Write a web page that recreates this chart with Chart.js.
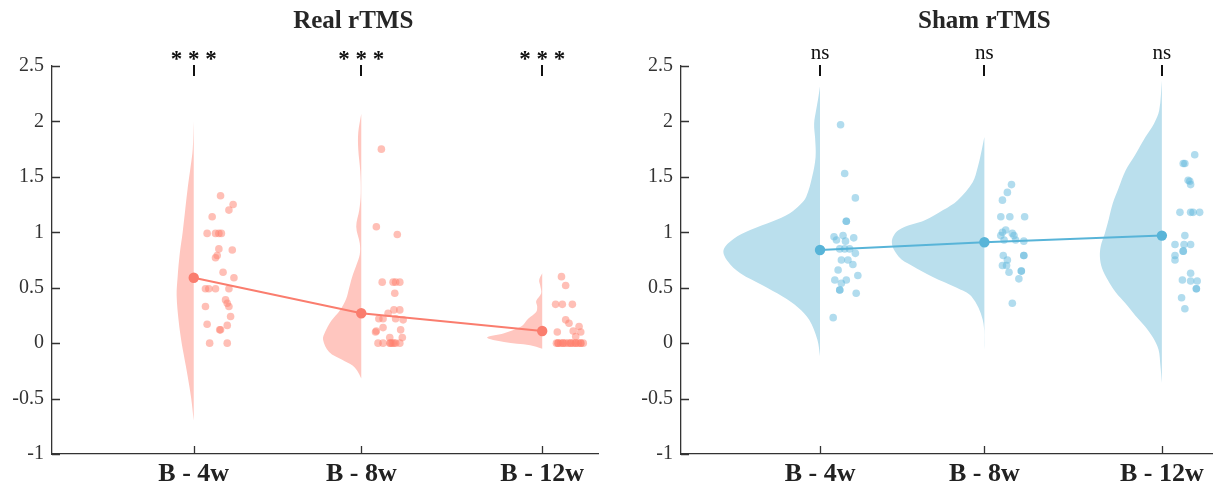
<!DOCTYPE html>
<html>
<head>
<meta charset="utf-8">
<script src="https://cdn.jsdelivr.net/npm/chart.js@4.4.1/dist/chart.umd.min.js"></script>
<style>
  body { margin: 0; background: #fff; }
  #wrap { position: relative; width: 1218px; height: 489px; }
  .panel { position: absolute; top: 0; height: 489px; }
</style>
</head>
<body>
<div id="wrap">
  <div class="panel" style="left:0;width:610px"><canvas id="realChart"></canvas></div>
  <div class="panel" style="left:610px;width:608px"><canvas id="shamChart"></canvas></div>
</div>
<script>
// categories and labels
const categories = ["B - 4w", "B - 8w", "B - 12w"];
const yTicks = [-1, -0.5, 0, 0.5, 1, 1.5, 2, 2.5];
const panelTitles = ["Real rTMS", "Sham rTMS"];
const realSig = ["* * *", "* * *", "* * *"];
const shamSig = ["ns", "ns", "ns"];

// group means
const realMeans = [0.59, 0.27, 0.11];
const shamMeans = [0.84, 0.91, 0.97];

// individual values and their horizontal jitter
const realValues = [
  [1.33, 1.25, 1.2, 1.14, 0.99, 0.99, 0.99, 0.99, 0.85, 0.84, 0.79, 0.77, 0.64, 0.59, 0.49, 0.49, 0.49, 0.49, 0.39, 0.36, 0.33, 0.33, 0.24, 0.17, 0.16, 0.12, 0.12, 0, 0],
  [1.75, 1.05, 0.98, 0.55, 0.55, 0.55, 0.55, 0.45, 0.3, 0.3, 0.27, 0.22, 0.22, 0.22, 0.21, 0.14, 0.12, 0.11, 0.1, 0.05, 0.05, 0, 0, 0, 0, 0, 0, 0, 0],
  [0.6, 0.52, 0.35, 0.35, 0.35, 0.21, 0.18, 0.15, 0.11, 0.1, 0.1, 0.06, 0, 0, 0, 0, 0, 0, 0, 0, 0, 0, 0, 0, 0, 0, 0, 0, 0]
];
const realJitter = [
  [.16, .235, .21, .11, .08, .13, .15, .165, .15, .23, .14, .13, .175, .24, .07, .09, .13, .21, .19, .2, .21, .07, .22, .08, .2, .155, .16, .095, .2],
  [.12, .09, .215, .125, .19, .205, .23, .2, .195, .23, .16, .105, .13, .205, .25, .13, .235, .09, .085, .17, .245, .1, .13, .17, .175, .185, .195, .205, .23],
  [.115, .14, .08, .12, .18, .14, .16, .22, .185, .09, .23, .2, .085, .095, .095, .11, .125, .125, .14, .155, .17, .17, .185, .2, .2, .215, .23, .23, .245]
];
const shamValues = [
  [1.97, 1.53, 1.31, 1.1, 1.1, 0.97, 0.96, 0.95, 0.93, 0.92, 0.85, 0.85, 0.85, 0.81, 0.75, 0.75, 0.71, 0.66, 0.61, 0.57, 0.57, 0.54, 0.48, 0.48, 0.45, 0.23],
  [1.43, 1.36, 1.29, 1.14, 1.14, 1.14, 1.02, 1.0, 0.99, 0.97, 0.97, 0.93, 0.93, 0.92, 0.79, 0.79, 0.79, 0.75, 0.7, 0.7, 0.64, 0.65, 0.65, 0.58, 0.36],
  [1.7, 1.62, 1.62, 1.47, 1.46, 1.43, 1.18, 1.18, 1.18, 1.18, 0.97, 0.89, 0.89, 0.89, 0.83, 0.83, 0.79, 0.75, 0.63, 0.57, 0.56, 0.56, 0.49, 0.49, 0.41, 0.31]
];
const shamJitter = [
  [.125, .15, .215, .16, .16, .14, .085, .205, .1, .155, .12, .15, .18, .215, .13, .17, .2, .11, .23, .09, .16, .13, .12, .12, .22, .08],
  [.165, .14, .11, .1, .155, .245, .13, .11, .17, .1, .18, .12, .19, .24, .115, .24, .24, .14, .11, .135, .15, .225, .225, .21, .17],
  [.2, .13, .14, .16, .17, .175, .11, .175, .19, .23, .14, .08, .135, .175, .13, .13, .08, .08, .175, .125, .175, .215, .21, .21, .12, .14]
];

// half-violin outlines: levels and half widths (x-axis units)
const realViolinY = [
  [-0.7, -0.5, -0.3, -0.1, 0, 0.2, 0.43, 0.6, 0.8, 1.0, 1.2, 1.4, 1.6, 1.75, 2.0],
  [-0.32, -0.25, -0.2, -0.15, -0.08, 0.03, 0.1, 0.2, 0.3, 0.4, 0.5, 0.6, 0.7, 0.8, 0.9, 1.05, 1.2, 1.35, 1.55, 1.75, 1.9, 2.07],
  [-0.05, -0.02, 0.01, 0.05, 0.09, 0.15, 0.22, 0.28, 0.33, 0.38, 0.45, 0.52, 0.57, 0.63]
];
const realViolinW = [
  [0, .015, .036, .06, .072, .09, .102, .096, .084, .066, .051, .036, .018, .006, 0],
  [0, .024, .054, .114, .192, .228, .216, .18, .126, .09, .072, .054, .03, .009, .009, .03, .012, .003, .006, .018, .018, 0],
  [0, .072, .228, .33, .228, .126, .084, .036, .03, .036, .006, .012, .018, 0]
];
const shamViolinY = [
  [-0.12, 0.03, 0.21, 0.32, 0.42, 0.52, 0.63, 0.74, 0.84, 0.94, 1.02, 1.1, 1.17, 1.25, 1.32, 1.5, 1.68, 1.85, 1.98, 2.1, 2.2, 2.32],
  [-0.06, 0.21, 0.42, 0.5, 0.6, 0.7, 0.78, 0.91, 1.02, 1.11, 1.2, 1.29, 1.45, 1.59, 1.75, 1.86],
  [-0.36, -0.2, -0.06, 0.05, 0.15, 0.25, 0.36, 0.46, 0.57, 0.68, 0.78, 0.88, 0.99, 1.12, 1.26, 1.4, 1.56, 1.7, 1.86, 1.98, 2.1, 2.37]
];
const shamViolinW = [
  [0, .016, .066, .132, .228, .347, .485, .563, .587, .527, .425, .287, .186, .12, .084, .048, .027, .03, .036, .024, .012, 0],
  [0, .01, .078, .168, .317, .443, .521, .563, .521, .359, .251, .162, .072, .04, .015, 0],
  [0, .009, .02, .054, .102, .162, .222, .281, .329, .365, .377, .371, .347, .323, .299, .263, .22, .162, .1, .048, .016, 0]
];

// layout: where the categories sit on the linear x axis
const catPos = [1, 2, 3.08];
const FONT = "Liberation Serif";
Chart.defaults.font.family = FONT;

const decor = {
  id: "decor",
  afterDraw(chart, args, o) {
    const { ctx, chartArea: a, scales: { x, y } } = chart;
    ctx.save();
    // inward tick marks
    ctx.strokeStyle = "#333";
    ctx.lineWidth = 1.3;
    ctx.beginPath();
    yTicks.forEach(v => {
      const py = Math.round(y.getPixelForValue(v)) + 0.5;
      ctx.moveTo(a.left, py);
      ctx.lineTo(a.left + 8, py);
    });
    catPos.forEach(v => {
      const px = Math.round(x.getPixelForValue(v)) + 0.5;
      ctx.moveTo(px, a.bottom);
      ctx.lineTo(px, a.bottom - 8);
    });
    ctx.stroke();
    // significance marks
    ctx.strokeStyle = "#111";
    ctx.lineWidth = 2;
    ctx.beginPath();
    catPos.forEach(v => {
      const px = Math.round(x.getPixelForValue(v));
      ctx.moveTo(px, a.top - 1);
      ctx.lineTo(px, a.top + 10);
    });
    ctx.stroke();
    ctx.fillStyle = "#111";
    ctx.textAlign = "center";
    ctx.textBaseline = "alphabetic";
    ctx.font = o.sigFont;
    o.sig.forEach((t, i) => ctx.fillText(t, x.getPixelForValue(catPos[i]), o.sigY));
    // panel title
    ctx.fillStyle = "#262626";
    ctx.font = `bold 25px "${FONT}"`;
    ctx.fillText(o.title, x.getPixelForValue(catPos[1]) + o.titleShift, 28);
    ctx.restore();
  }
};

function makePanel(id, cfg) {
  const violins = cfg.violinY.map((ys, g) => ({
    type: "line",
    data: ys.map((v, i) => ({ x: catPos[g] - cfg.violinW[g][i], y: v })),
    fill: "shape",
    backgroundColor: cfg.violinColor,
    borderColor: "rgba(0,0,0,0)",
    borderWidth: 0,
    pointRadius: 0,
    tension: 0.35,
    order: 3
  }));
  const dots = cfg.values.map((vals, g) => ({
    type: "scatter",
    data: vals.map((v, i) => ({ x: catPos[g] + cfg.jitter[g][i], y: v })),
    backgroundColor: cfg.dotColor,
    borderWidth: 0,
    pointRadius: 3.8,
    order: 2
  }));
  const mean = {
    type: "line",
    data: cfg.means.map((v, i) => ({ x: catPos[i], y: v })),
    borderColor: cfg.meanColor,
    backgroundColor: cfg.meanColor,
    borderWidth: 2,
    pointRadius: 5.2,
    pointBorderWidth: 0,
    tension: 0,
    fill: false,
    order: 1
  };
  return new Chart(document.getElementById(id), {
    type: "scatter",
    data: { datasets: [...violins, ...dots, mean] },
    options: {
      responsive: true,
      maintainAspectRatio: false,
      animation: false,
      events: [],
      layout: { padding: { top: 66, right: cfg.padRight, left: 0, bottom: 0 } },
      plugins: {
        legend: { display: false },
        tooltip: { enabled: false },
        decor: { title: cfg.title, sig: cfg.sig, sigY: cfg.sigY, sigFont: cfg.sigFont, titleShift: cfg.titleShift }
      },
      scales: {
        x: {
          type: "linear",
          min: 0.154,
          max: cfg.xMax,
          afterBuildTicks: s => { s.ticks = catPos.map(v => ({ value: v })); },
          afterFit: s => { s.height = 35; },
          grid: { display: false, drawTicks: false },
          border: { display: true, color: "#333", width: 1.3 },
          ticks: {
            autoSkip: false,
            maxRotation: 0,
            padding: 5,
            color: "#222",
            font: { family: FONT, size: 26, weight: "bold" },
            callback: (v, i) => categories[i]
          }
        },
        y: {
          type: "linear",
          min: -1,
          max: 2.5,
          afterBuildTicks: s => { s.ticks = yTicks.map(v => ({ value: v })); },
          afterFit: s => { s.width = cfg.axisW; },
          grid: { display: false, drawTicks: false },
          border: { display: true, color: "#333", width: 1.3 },
          ticks: {
            padding: 8,
            color: "#333",
            font: { family: FONT, size: 20 },
            callback: v => String(v)
          }
        }
      }
    },
    plugins: [decor]
  });
}

makePanel("realChart", {
  title: panelTitles[0], sig: realSig, sigY: 66, sigFont: `bold 23px "${FONT}"`, titleShift: -8,
  values: realValues, jitter: realJitter, means: realMeans,
  violinY: realViolinY, violinW: realViolinW,
  violinColor: "rgb(255,198,191)", dotColor: "rgba(255,128,110,0.5)", meanColor: "rgb(250,125,110)",
  axisW: 52, padRight: 12, xMax: 3.413
});
makePanel("shamChart", {
  title: panelTitles[1], sig: shamSig, sigY: 59, sigFont: `21px "${FONT}"`, titleShift: 0,
  values: shamValues, jitter: shamJitter, means: shamMeans,
  violinY: shamViolinY, violinW: shamViolinW,
  violinColor: "rgb(186,223,237)", dotColor: "rgba(100,185,222,0.5)", meanColor: "rgb(88,180,216)",
  axisW: 71, padRight: 0, xMax: 3.39
});
</script>
</body>
</html>
